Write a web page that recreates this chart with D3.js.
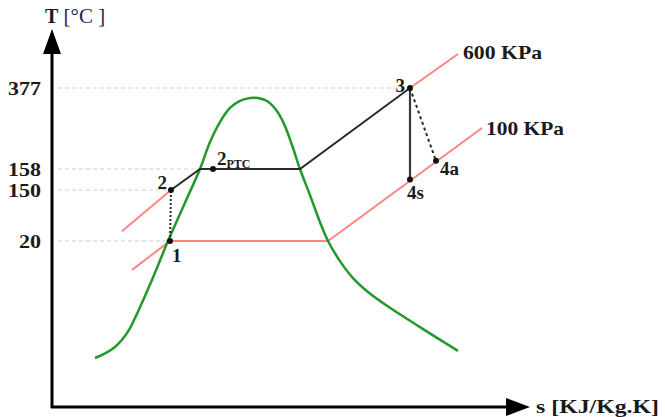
<!DOCTYPE html>
<html>
<head>
<meta charset="utf-8">
<script src="https://cdn.jsdelivr.net/npm/d3@7"></script>
<style>
  body { margin: 0; background: #fff; }
  text { font-family: "Liberation Serif", "DejaVu Serif", serif; }
</style>
</head>
<body>
<div id="chart"></div>
<script>
// Schematic T-s diagram (s in arbitrary units, T in degC with a stretched scale)
var tTicks = [20, 150, 158, 377];
var gridEndS = [2.36, 2.38, 2.96, 7.16];

// saturation dome
var domeS = [0.86, 1.08, 1.26, 1.40, 1.54, 1.66, 1.78, 1.94, 2.10, 2.32, 2.64, 2.96, 3.16, 3.36, 3.56, 3.76, 3.96, 4.12, 4.30, 4.48, 4.64, 4.80, 4.96, 5.16, 5.36, 5.52, 5.76, 6.02, 6.32, 6.70, 7.36, 8.12];
var domeT = [-276, -263, -248, -230, -205, -175, -142, -96, -48, 20, 112, 158, 231, 285, 323, 342, 350, 350, 342, 318, 280, 223, 158, 137, 68, 20, -31, -74, -109, -144, -198, -258];

// isobars
var p600Low = [[1.40, 45], [2.38, 150]];
var p600High = [[7.16, 377], [8.12, 469]];
var p100 = [[1.60, -53], [2.36, 20], [5.52, 20], [8.60, 269]];

// cycle states
var stateNames = ["1", "2", "2f", "2PTC", "2g", "3", "4s", "4a"];
var stateS = [2.36, 2.38, 2.96, 3.22, 4.96, 7.16, 7.16, 7.68];
var stateT = [20, 150, 158, 158, 158, 377, 154, 180];

var svgWidth = 665;
var svgHeight = 417;

var svg = d3.select("#chart")
  .append("svg")
  .attr("width", svgWidth)
  .attr("height", svgHeight);

var xScale = d3.scaleLinear()
  .domain([0, 9.5])
  .range([52, 527]);

// piecewise scale: the 150..158 band is stretched like in the sketch
var yScale = d3.scaleLinear()
  .domain([-400, 20, 150, 158, 377])
  .range([407, 241, 190, 169, 88]);

var st = {};
stateNames.forEach(function(n, i) {
  st[n] = [stateS[i], stateT[i]];
});

var line = d3.line()
  .x(d => xScale(d[0]))
  .y(d => yScale(d[1]));

// dashed guide lines
svg.append("g")
  .selectAll("line")
  .data(tTicks)
  .enter()
  .append("line")
  .attr("x1", 58)
  .attr("x2", (d, i) => xScale(gridEndS[i]))
  .attr("y1", d => yScale(d))
  .attr("y2", d => yScale(d))
  .attr("stroke", "#cfcfcf")
  .attr("stroke-width", 1)
  .attr("stroke-dasharray", "4,3");

// tick labels through a left axis without ticks
var yAxis = svg.append("g")
  .attr("transform", "translate(44,0)")
  .call(d3.axisLeft(yScale).tickValues(tTicks).tickSize(0).tickPadding(0).tickFormat(d3.format("d")));
yAxis.select(".domain").remove();
yAxis.selectAll("text")
  .attr("font-family", "Liberation Serif")
  .attr("font-size", 19)
  .attr("font-weight", "bold")
  .attr("fill", "#1a1a1a")
  .attr("dy", "0.34em")
  .attr("x", -3)
  .attr("textLength", d => String(d).length * 11)
  .attr("lengthAdjust", "spacingAndGlyphs");

// isobars
[p600Low, p600High, p100].forEach(function(p) {
  svg.append("path")
    .datum(p)
    .attr("d", line)
    .attr("fill", "none")
    .attr("stroke", "#ff8585")
    .attr("stroke-width", 2);
});

// saturation dome
svg.append("path")
  .datum(d3.zip(domeS, domeT))
  .attr("d", line.curve(d3.curveCatmullRom.alpha(0.5)))
  .attr("fill", "none")
  .attr("stroke", "#22992a")
  .attr("stroke-width", 2.5);
line.curve(d3.curveLinear);

// cycle lines
svg.append("path")
  .datum([st["2"], st["2f"], st["2g"], st["3"]])
  .attr("d", line)
  .attr("fill", "none")
  .attr("stroke", "#2a2a2a")
  .attr("stroke-width", 2);

svg.append("path")
  .datum([st["3"], st["4s"]])
  .attr("d", line)
  .attr("fill", "none")
  .attr("stroke", "#3a3a3a")
  .attr("stroke-width", 2.2);

svg.append("path")
  .datum([st["1"], st["2"]])
  .attr("d", line)
  .attr("fill", "none")
  .attr("stroke", "#2a2a2a")
  .attr("stroke-width", 2)
  .attr("stroke-dasharray", "2,2");

svg.append("path")
  .datum([st["3"], st["4a"]])
  .attr("d", line)
  .attr("fill", "none")
  .attr("stroke", "#2a2a2a")
  .attr("stroke-width", 2)
  .attr("stroke-dasharray", "3,3");

// state dots
svg.append("g")
  .selectAll("circle")
  .data(["1", "2", "2PTC", "3", "4s", "4a"])
  .enter()
  .append("circle")
  .attr("cx", d => xScale(st[d][0]))
  .attr("cy", d => yScale(st[d][1]))
  .attr("r", 3)
  .attr("fill", "#111");

// state labels
var labels = [
  {k: "1", t: "1", dx: 2, dy: 21, a: "start"},
  {k: "2", t: "2", dx: -4, dy: -1, a: "end"},
  {k: "3", t: "3", dx: -5, dy: 4, a: "end"},
  {k: "4s", t: "4s", dx: -3, dy: 19, a: "start"},
  {k: "4a", t: "4a", dx: 4, dy: 14, a: "start"}
];
svg.append("g")
  .selectAll("text")
  .data(labels)
  .enter()
  .append("text")
  .attr("x", d => xScale(st[d.k][0]) + d.dx)
  .attr("y", d => yScale(st[d.k][1]) + d.dy)
  .attr("text-anchor", d => d.a)
  .attr("font-size", 19)
  .attr("font-weight", "bold")
  .attr("fill", "#1a1a1a")
  .text(d => d.t);

var ptc = svg.append("text")
  .attr("x", xScale(st["2PTC"][0]) + 4)
  .attr("y", yScale(st["2PTC"][1]) - 4)
  .attr("font-size", 19)
  .attr("font-weight", "bold")
  .attr("fill", "#1a1a1a");
ptc.append("tspan").text("2");
ptc.append("tspan").attr("font-size", 12).attr("dy", 3).text("PTC");

// isobar labels
svg.append("text")
  .attr("x", xScale(p600High[1][0]) + 5)
  .attr("y", yScale(p600High[1][1]) + 5)
  .attr("font-size", 19)
  .attr("font-weight", "bold")
  .attr("fill", "#1a1a1a")
  .attr("textLength", 79)
  .attr("lengthAdjust", "spacingAndGlyphs")
  .text("600 KPa");

svg.append("text")
  .attr("x", xScale(p100[3][0]) + 4)
  .attr("y", yScale(p100[3][1]) + 7)
  .attr("font-size", 19)
  .attr("font-weight", "bold")
  .attr("fill", "#1a1a1a")
  .attr("textLength", 78)
  .attr("lengthAdjust", "spacingAndGlyphs")
  .text("100 KPa");

// axes with arrow heads
svg.append("line")
  .attr("x1", 52).attr("y1", 408)
  .attr("x2", 52).attr("y2", 50)
  .attr("stroke", "#000")
  .attr("stroke-width", 3);
svg.append("path")
  .attr("d", "M52,29 L43,54 L61,54 Z")
  .attr("fill", "#000");

svg.append("line")
  .attr("x1", 51).attr("y1", 407)
  .attr("x2", 512).attr("y2", 407)
  .attr("stroke", "#000")
  .attr("stroke-width", 3);
svg.append("path")
  .attr("d", "M530,407 L506,398 L506,416 Z")
  .attr("fill", "#000");

// axis titles
var tTitle = svg.append("text")
  .attr("x", 45)
  .attr("y", 23)
  .attr("font-size", 20)
  .attr("fill", "#1a1a1a");
tTitle.append("tspan").attr("font-weight", "bold").text("T");
tTitle.append("tspan").attr("fill", "#2b2450").attr("font-size", 21).text(" [°C ]");

svg.append("text")
  .attr("x", 536)
  .attr("y", 413)
  .attr("font-size", 18)
  .attr("font-weight", "bold")
  .attr("fill", "#1a1a1a")
  .attr("textLength", 123)
  .attr("lengthAdjust", "spacingAndGlyphs")
  .text("s [KJ/Kg.K]");
</script>
</body>
</html>
